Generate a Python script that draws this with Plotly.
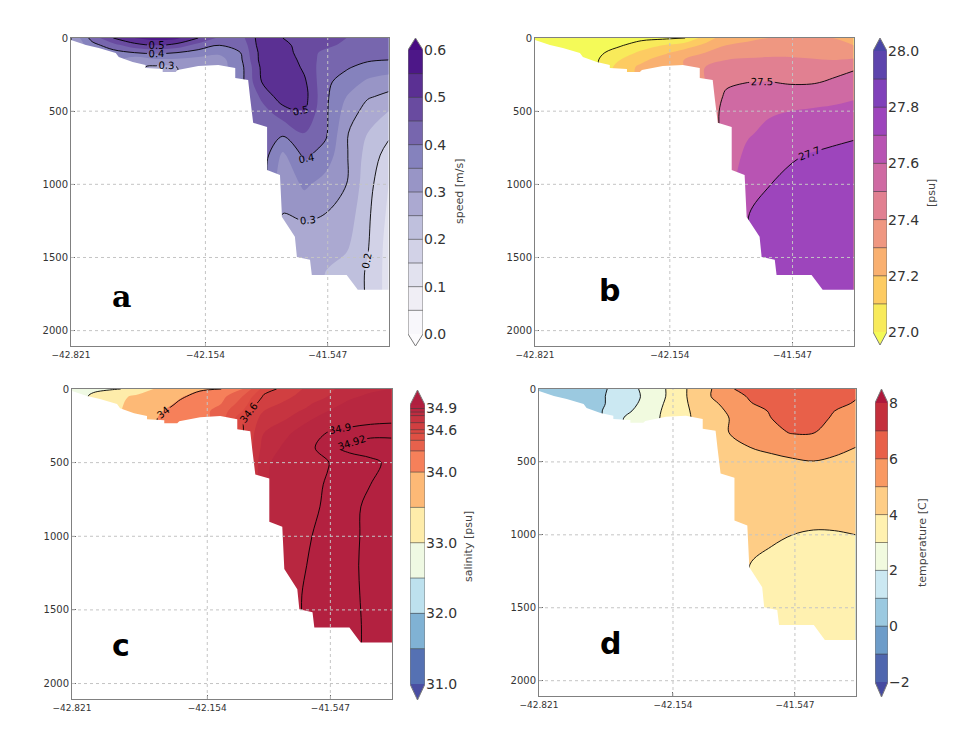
import numpy as np
import plotly.graph_objects as go

N = None

# ---------------------------------------------------------------- section grid
lon = [-42.821, -42.716, -42.611, -42.506, -42.400, -42.295, -42.190, -42.085,
       -41.980, -41.875, -41.770, -41.664, -41.559, -41.454, -41.349, -41.245]
depth = [0, 50, 100, 150, 200, 300, 400, 500, 650, 800, 1000, 1200, 1400, 1600, 1750]

# seabed profile along the section (lon, depth in m)
seabed_lon = [-42.821, -42.747, -42.683, -42.599, -42.584, -42.515, -42.451, -42.451,
              -42.366, -42.366, -42.302, -42.292, -42.189, -42.090, -42.006, -42.006,
              -41.942, -41.932, -41.917, -41.848, -41.848, -41.784, -41.774, -41.710,
              -41.700, -41.635, -41.626, -41.453, -41.398, -41.243]
seabed_depth = [14, 48, 68, 102, 130, 164, 184, 205, 212, 232, 232, 219, 191, 184, 205, 273,
                287, 410, 580, 608, 902, 936, 1223, 1359, 1496, 1516, 1619, 1619, 1721, 1721]

lon_ticks = [-42.821, -42.154, -41.547]
lon_ticktext = ["\u221242.821", "\u221242.154", "\u221241.547"]
depth_ticks = [0, 500, 1000, 1500, 2000]

# ---------------------------------------------------------------- fields (rows = depth, cols = lon)
speed = [
    [0.30, 0.42, 0.50, 0.55, 0.57, 0.56, 0.50, 0.44, 0.43, 0.53, 0.50, 0.47, 0.46, 0.45, 0.44, 0.43],
    [N, 0.38, 0.43, 0.48, 0.50, 0.48, 0.43, 0.40, 0.41, 0.53, 0.52, 0.47, 0.46, 0.44, 0.43, 0.42],
    [N, N, 0.38, 0.40, 0.41, 0.40, 0.38, 0.36, 0.40, 0.52, 0.53, 0.47, 0.44, 0.42, 0.42, 0.41],
    [N, N, N, 0.31, 0.34, 0.34, 0.33, 0.33, 0.39, 0.52, 0.54, 0.48, 0.43, 0.41, 0.405, 0.40],
    [N, N, N, N, 0.29, 0.30, N, N, 0.38, 0.51, 0.545, 0.49, 0.42, 0.405, 0.385, 0.38],
    [N, N, N, N, N, N, N, N, N, 0.50, 0.545, 0.51, 0.41, 0.38, 0.34, 0.32],
    [N, N, N, N, N, N, N, N, N, 0.46, 0.53, 0.52, 0.41, 0.35, 0.305, 0.29],
    [N, N, N, N, N, N, N, N, N, 0.43, 0.48, 0.50, 0.41, 0.33, 0.28, 0.25],
    [N, N, N, N, N, N, N, N, N, N, 0.41, 0.45, 0.41, 0.305, 0.25, 0.21],
    [N, N, N, N, N, N, N, N, N, N, 0.34, 0.41, 0.38, 0.305, 0.23, 0.18],
    [N, N, N, N, N, N, N, N, N, N, 0.31, 0.36, 0.33, 0.30, 0.22, 0.15],
    [N, N, N, N, N, N, N, N, N, N, 0.30, 0.31, 0.30, 0.28, 0.21, 0.14],
    [N, N, N, N, N, N, N, N, N, N, N, 0.27, 0.27, 0.26, 0.205, 0.13],
    [N, N, N, N, N, N, N, N, N, N, N, N, 0.25, 0.23, 0.195, 0.13],
    [N, N, N, N, N, N, N, N, N, N, N, N, N, N, N, N],
]

density = [
    [26.80, 26.85, 26.90, 26.93, 26.95, 26.97, 26.98, 26.99, 27.15, 27.25, 27.28, 27.30, 27.30, 27.30, 27.30, 27.28],
    [N, 26.90, 26.93, 26.96, 26.99, 27.05, 27.10, 27.15, 27.22, 27.30, 27.32, 27.33, 27.33, 27.33, 27.32, 27.30],
    [N, N, 26.95, 26.98, 27.05, 27.12, 27.18, 27.24, 27.30, 27.36, 27.37, 27.37, 27.37, 27.36, 27.35, 27.36],
    [N, N, N, 27.00, 27.10, 27.18, 27.24, 27.30, 27.36, 27.40, 27.41, 27.42, 27.42, 27.41, 27.40, 27.41],
    [N, N, N, N, 27.15, 27.22, N, N, 27.40, 27.44, 27.45, 27.46, 27.46, 27.45, 27.47, 27.49],
    [N, N, N, N, N, N, N, N, N, 27.48, 27.498, 27.502, 27.49, 27.49, 27.51, 27.53],
    [N, N, N, N, N, N, N, N, N, 27.52, 27.54, 27.55, 27.55, 27.56, 27.57, 27.59],
    [N, N, N, N, N, N, N, N, N, 27.55, 27.57, 27.59, 27.60, 27.61, 27.62, 27.63],
    [N, N, N, N, N, N, N, N, N, N, 27.59, 27.62, 27.64, 27.66, 27.67, 27.69],
    [N, N, N, N, N, N, N, N, N, N, 27.62, 27.67, 27.69, 27.705, 27.72, 27.72],
    [N, N, N, N, N, N, N, N, N, N, 27.67, 27.698, 27.72, 27.73, 27.74, 27.75],
    [N, N, N, N, N, N, N, N, N, N, 27.698, 27.72, 27.74, 27.75, 27.76, 27.76],
    [N, N, N, N, N, N, N, N, N, N, N, 27.74, 27.76, 27.77, 27.77, 27.77],
    [N, N, N, N, N, N, N, N, N, N, N, N, 27.77, 27.78, 27.78, 27.78],
    [N, N, N, N, N, N, N, N, N, N, N, N, N, N, N, N],
]

salinity = [
    [32.70, 32.90, 32.98, 33.05, 33.60, 33.90, 33.98, 34.00, 34.30, 34.57, 34.62, 34.72, 34.78, 34.82, 34.84, 34.85],
    [N, 33.10, 33.30, 33.60, 33.80, 33.97, 34.05, 34.20, 34.45, 34.61, 34.67, 34.75, 34.80, 34.84, 34.86, 34.86],
    [N, N, 33.35, 33.70, 33.90, 34.02, 34.10, 34.30, 34.50, 34.65, 34.72, 34.78, 34.83, 34.86, 34.87, 34.87],
    [N, N, N, 33.80, 33.97, 34.05, 34.15, 34.38, 34.55, 34.70, 34.76, 34.81, 34.85, 34.87, 34.88, 34.88],
    [N, N, N, N, 34.00, 34.08, N, N, 34.59, 34.74, 34.79, 34.84, 34.87, 34.885, 34.89, 34.893],
    [N, N, N, N, N, N, N, N, N, 34.80, 34.84, 34.875, 34.903, 34.91, 34.915, 34.915],
    [N, N, N, N, N, N, N, N, N, 34.82, 34.86, 34.89, 34.915, 34.925, 34.93, 34.93],
    [N, N, N, N, N, N, N, N, N, 34.84, 34.87, 34.89, 34.899, 34.91, 34.915, 34.925],
    [N, N, N, N, N, N, N, N, N, N, 34.88, 34.893, 34.902, 34.912, 34.92, 34.93],
    [N, N, N, N, N, N, N, N, N, N, 34.885, 34.895, 34.903, 34.914, 34.925, 34.93],
    [N, N, N, N, N, N, N, N, N, N, 34.89, 34.898, 34.906, 34.915, 34.925, 34.93],
    [N, N, N, N, N, N, N, N, N, N, 34.893, 34.90, 34.907, 34.916, 34.925, 34.93],
    [N, N, N, N, N, N, N, N, N, N, N, 34.902, 34.908, 34.916, 34.924, 34.93],
    [N, N, N, N, N, N, N, N, N, N, N, N, 34.908, 34.916, 34.923, 34.93],
    [N, N, N, N, N, N, N, N, N, N, N, N, N, N, N, N],
]

temperature = [
    [0.30, 0.50, 0.70, 0.85, 1.50, 2.20, 3.00, 4.00, 4.80, 5.90, 6.30, 6.60, 6.70, 6.60, 6.40, 6.20],
    [N, 0.50, 0.70, 0.90, 1.60, 2.10, 3.00, 4.00, 4.90, 5.60, 6.10, 6.50, 6.70, 6.60, 6.30, 6.05],
    [N, N, 0.70, 0.90, 1.60, 2.20, 3.10, 3.95, 4.80, 5.20, 5.95, 6.30, 6.60, 6.50, 6.15, 5.95],
    [N, N, N, 1.00, 1.80, 2.30, 3.20, 3.90, 4.60, 5.10, 5.60, 6.10, 6.50, 6.40, 6.00, 5.80],
    [N, N, N, N, 2.00, 2.50, N, N, 4.40, 5.00, 5.40, 6.00, 6.45, 6.40, 5.85, 5.60],
    [N, N, N, N, N, N, N, N, N, 5.00, 5.30, 5.80, 6.05, 6.02, 5.60, 5.40],
    [N, N, N, N, N, N, N, N, N, 4.80, 5.00, 5.15, 5.30, 5.30, 5.15, 5.00],
    [N, N, N, N, N, N, N, N, N, 4.50, 4.70, 4.80, 4.90, 4.98, 4.90, 4.75],
    [N, N, N, N, N, N, N, N, N, N, 4.50, 4.55, 4.60, 4.60, 4.55, 4.50],
    [N, N, N, N, N, N, N, N, N, N, 4.35, 4.40, 4.45, 4.40, 4.30, 4.25],
    [N, N, N, N, N, N, N, N, N, N, 4.20, 4.10, 4.00, 3.92, 3.95, 4.00],
    [N, N, N, N, N, N, N, N, N, N, 4.00, 3.85, 3.75, 3.70, 3.70, 3.75],
    [N, N, N, N, N, N, N, N, N, N, N, 3.70, 3.60, 3.55, 3.55, 3.60],
    [N, N, N, N, N, N, N, N, N, N, N, N, 3.50, 3.45, 3.45, 3.50],
    [N, N, N, N, N, N, N, N, N, N, N, N, N, N, N, N],
]

# ---------------------------------------------------------------- contour levels and colorbar ticks
speed_levels = [0.0, 0.05, 0.10, 0.15, 0.20, 0.25, 0.30, 0.35, 0.40, 0.45, 0.50, 0.55, 0.60]
speed_lines = [0.2, 0.3, 0.4, 0.5]
speed_cticks = [0.0, 0.1, 0.2, 0.3, 0.4, 0.5, 0.6]
speed_ctext = ["0.0", "0.1", "0.2", "0.3", "0.4", "0.5", "0.6"]

density_levels = [27.0, 27.1, 27.2, 27.3, 27.4, 27.5, 27.6, 27.7, 27.8, 27.9, 28.0]
density_lines = [27.0, 27.5, 27.7]
density_cticks = [27.0, 27.2, 27.4, 27.6, 27.8, 28.0]
density_ctext = ["27.0", "27.2", "27.4", "27.6", "27.8", "28.0"]

salinity_levels = [31.0, 31.5, 32.0, 32.5, 33.0, 33.5, 34.0, 34.3, 34.45, 34.55, 34.6,
                   34.7, 34.8, 34.85, 34.9, 34.95]
salinity_lines = [33.0, 34.0, 34.6, 34.9, 34.92]
salinity_cticks = [31.0, 32.0, 33.0, 34.0, 34.6, 34.9]
salinity_ctext = ["31.0", "32.0", "33.0", "34.0", "34.6", "34.9"]

temperature_levels = [-2, -1, 0, 1, 2, 3, 4, 5, 6, 7, 8]
temperature_lines = [1, 2, 3, 4, 5, 6]
temperature_cticks = [-2, 0, 2, 4, 6, 8]
temperature_ctext = ["\u22122", "0", "2", "4", "6", "8"]

# ---------------------------------------------------------------- colour maps
PURPLES = ["#fcfbfd", "#efedf5", "#dadaeb", "#bcbddc", "#9e9ac8", "#807dba", "#6a51a3", "#54278f", "#3f007d"]
PLASMA_R = ["#f0f921", "#fcce25", "#fca636", "#f2844b", "#e16462", "#cc4778", "#b12a90", "#8f0da4",
            "#6a00a8", "#41049d", "#0d0887"]
RDYLBU_R = ["#313695", "#4575b4", "#74add1", "#abd9e9", "#e0f3f8", "#ffffbf", "#fee090", "#fdae61",
            "#f46d43", "#d73027", "#a50026"]

W, H = 968, 729
FONT = "DejaVu Sans"


def _rgb(h):
    return np.array([int(h[i:i + 2], 16) for i in (1, 3, 5)], float)


def sample(anchors, t):
    t = min(max(t, 0.0), 1.0)
    pos = t * (len(anchors) - 1)
    i = min(int(pos), len(anchors) - 2)
    f = pos - i
    return (1 - f) * _rgb(anchors[i]) + f * _rgb(anchors[i + 1])


def palette(levels, anchors, alpha):
    """under colour, one colour per band, over colour"""
    lo, hi = levels[0], levels[-1]
    ts = [0.0] + [((a + b) / 2 - lo) / (hi - lo) for a, b in zip(levels[:-1], levels[1:])] + [1.0]
    out = []
    for t in ts:
        c = alpha * sample(anchors, t) + (1 - alpha) * 255.0
        out.append("rgb(%d,%d,%d)" % tuple(int(round(v)) for v in c))
    return out


def step_scale(colors):
    m = len(colors) - 1
    scale = []
    for j, c in enumerate(colors):
        scale.append([max(0.0, (j - 0.5) / m), c])
        scale.append([min(1.0, (j + 0.5) / m), c])
    return scale


def filled(rows):
    # carry the deepest value of each profile down under the seabed (hidden by the mask)
    arr = np.array([[np.nan if v is None else v for v in r] for r in rows], float)
    for j in range(arr.shape[1]):
        for i in range(1, arr.shape[0]):
            if np.isnan(arr[i, j]):
                arr[i, j] = arr[i - 1, j]
    return arr


def to_index(z, levels):
    n = len(levels) - 1
    span = levels[-1] - levels[0]
    xp = [levels[0] - span] + list(levels) + [levels[-1] + span]
    fp = [-n] + list(range(n + 1)) + [2 * n]
    return np.interp(z, xp, fp)


def px(x):
    return x / W


def py(y):
    return 1 - y / H


X_RANGE = [-42.821, -41.243]
Y_BOTTOM = 2105
GRID = dict(color="#c4c4c4", width=1, dash="dot")

panels = [
    dict(z=speed, levels=speed_levels, anchors=PURPLES, alpha=0.96, lines=speed_lines, labels=True,
         fmt=".1f", box=(71, 389, 38, 346), cbar=(408, 423, 38, 50, 334, 346),
         cticks=speed_cticks, ctext=speed_ctext, ctitle="speed [m/s]", ctitle_xy=(459, 192),
         letter="a", letter_xy=(121, 296), letter_font="DejaVu Serif"),
    dict(z=density, levels=density_levels, anchors=PLASMA_R, alpha=0.75, lines=density_lines, labels=True,
         fmt=".1f", box=(535, 854, 38, 346), cbar=(873, 887, 38, 51, 332, 345),
         cticks=density_cticks, ctext=density_ctext, ctitle="[psu]", ctitle_xy=(932, 193),
         letter="b", letter_xy=(609, 290), letter_font=FONT),
    dict(z=salinity, levels=salinity_levels, anchors=RDYLBU_R, alpha=0.88, lines=salinity_lines, labels=True,
         fmt=".4~g", box=(72, 392, 389, 699), cbar=(410, 425, 390, 405, 684, 700),
         cticks=salinity_cticks, ctext=salinity_ctext, ctitle="salinity [psu]", ctitle_xy=(468, 547),
         letter="c", letter_xy=(121, 645), letter_font=FONT),
    dict(z=temperature, levels=temperature_levels, anchors=RDYLBU_R, alpha=0.9, lines=temperature_lines,
         labels=False, fmt=".0f", box=(539, 856, 389, 696), cbar=(875, 888, 389, 403, 682, 697),
         cticks=temperature_cticks, ctext=temperature_ctext, ctitle="temperature [C]", ctitle_xy=(922, 543),
         letter="d", letter_xy=(610, 643), letter_font=FONT),
]

fig = go.Figure()
layout = dict(width=W, height=H, autosize=False, margin=dict(l=0, r=0, t=0, b=0, pad=0, autoexpand=False),
              paper_bgcolor="white", plot_bgcolor="white", showlegend=False,
              font=dict(family=FONT, color="#333"))
shapes, annotations = [], []

# polygon of the sea floor (white) built from the seabed profile
pad_x = 0.05
mask_x = [X_RANGE[0] - pad_x] + seabed_lon + [X_RANGE[1] + pad_x, X_RANGE[1] + pad_x, X_RANGE[0] - pad_x]
mask_y = [seabed_depth[0]] + seabed_depth + [seabed_depth[-1], Y_BOTTOM + 50, Y_BOTTOM + 50]

for k, p in enumerate(panels):
    s = "" if k == 0 else str(k + 1)
    xa, ya = "x" + s, "y" + s
    levels = p["levels"]
    n = len(levels) - 1
    cols = palette(levels, p["anchors"], p["alpha"])
    z = filled(p["z"])

    # filled bands
    fig.add_trace(go.Contour(
        x=lon, y=depth, z=to_index(z, levels), xaxis=xa, yaxis=ya,
        autocontour=False, contours=dict(start=0, end=n, size=1, coloring="fill", showlines=False),
        colorscale=step_scale(cols), showscale=False, line=dict(width=0), hoverinfo="skip"))

    # black isolines
    for v in p["lines"]:
        fig.add_trace(go.Contour(
            x=lon, y=depth, z=z, xaxis=xa, yaxis=ya, autocontour=False,
            contours=dict(start=v, end=v, size=1, coloring="none", showlabels=p["labels"],
                          labelfont=dict(family=FONT, size=10, color="black"), labelformat=p["fmt"]),
            line=dict(color="black", width=0.9), showscale=False, hoverinfo="skip"))

    # sea floor
    fig.add_trace(go.Scatter(x=mask_x, y=mask_y, xaxis=xa, yaxis=ya, mode="lines", fill="toself",
                             fillcolor="white", line=dict(width=0, color="white"), hoverinfo="skip"))

    x0, x1, y0, y1 = p["box"]
    layout["xaxis" + s] = dict(domain=[px(x0), px(x1)], range=X_RANGE, anchor=ya, tickmode="array",
                               tickvals=lon_ticks, ticktext=lon_ticktext, showgrid=False, zeroline=False,
                               showline=True, mirror=True, linecolor="#808080", linewidth=1,
                               ticks="inside", ticklen=4, tickcolor="#666", automargin=False,
                               tickfont=dict(family=FONT, size=9, color="#333"))
    layout["yaxis" + s] = dict(domain=[py(y1), py(y0)], range=[Y_BOTTOM, 0], anchor=xa, tickmode="array",
                               tickvals=depth_ticks, showgrid=False, zeroline=False,
                               showline=True, mirror=True, linecolor="#808080", linewidth=1,
                               ticks="inside", ticklen=4, tickcolor="#666", automargin=False,
                               tickfont=dict(family=FONT, size=10, color="#333"))

    # dotted grid drawn over the section
    for v in lon_ticks[1:]:
        shapes.append(dict(type="line", xref=xa, yref=ya + " domain", x0=v, x1=v, y0=0, y1=1,
                           line=GRID, layer="above"))
    for v in depth_ticks[1:]:
        shapes.append(dict(type="line", xref=xa + " domain", yref=ya, x0=0, x1=1, y0=v, y1=v,
                           line=GRID, layer="above"))

    annotations.append(dict(text="<b>%s</b>" % p["letter"], x=px(p["letter_xy"][0]), y=py(p["letter_xy"][1]),
                            xref="paper", yref="paper", showarrow=False, xanchor="center", yanchor="middle",
                            font=dict(family=p["letter_font"], size=30, color="black")))

    # ---------------- colour bar with end triangles
    cs = str(k + 5)
    cxa, cya = "x" + cs, "y" + cs
    bx0, bx1, tip_t, bar_t, bar_b, tip_b = p["cbar"]
    lo, hi = levels[0], levels[-1]
    upp = (hi - lo) / (bar_b - bar_t)
    ext_lo = (tip_b - bar_b) * upp
    ext_hi = (bar_t - tip_t) * upp

    fig.add_trace(go.Heatmap(x=[0, 1], y=levels, z=[[i] for i in range(n)], xaxis=cxa, yaxis=cya,
                             colorscale=step_scale(cols[1:-1]), zmin=0, zmax=n - 1, showscale=False,
                             hoverinfo="skip"))
    fig.add_trace(go.Scatter(x=[0, 1, 0.5, 0], y=[hi, hi, hi + ext_hi, hi], xaxis=cxa, yaxis=cya,
                             mode="lines", fill="toself", fillcolor=cols[-1], line=dict(width=0),
                             hoverinfo="skip"))
    fig.add_trace(go.Scatter(x=[0, 1, 0.5, 0], y=[lo, lo, lo - ext_lo, lo], xaxis=cxa, yaxis=cya,
                             mode="lines", fill="toself", fillcolor=cols[0], line=dict(width=0),
                             hoverinfo="skip"))
    sep_x, sep_y = [], []
    for v in levels[1:-1]:
        sep_x += [0, 1, None]
        sep_y += [v, v, None]
    fig.add_trace(go.Scatter(x=sep_x, y=sep_y, xaxis=cxa, yaxis=cya, mode="lines",
                             line=dict(color="rgba(60,60,60,0.75)", width=0.8), hoverinfo="skip"))
    fig.add_trace(go.Scatter(x=[0, 0, 0.5, 1, 1, 0.5, 0],
                             y=[lo, hi, hi + ext_hi, hi, lo, lo - ext_lo, lo],
                             xaxis=cxa, yaxis=cya, mode="lines",
                             line=dict(color="#7a7a7a", width=1), hoverinfo="skip"))

    layout["xaxis" + cs] = dict(domain=[px(bx0), px(bx1)], range=[0, 1], anchor=cya, visible=False,
                                fixedrange=True, automargin=False)
    layout["yaxis" + cs] = dict(domain=[py(tip_b), py(tip_t)], range=[lo - ext_lo, hi + ext_hi], anchor=cxa,
                                side="right", tickmode="array", tickvals=p["cticks"], ticktext=p["ctext"],
                                showgrid=False, zeroline=False, showline=False, ticks="", automargin=False,
                                tickfont=dict(family=FONT, size=14, color="#333"), fixedrange=True)

    annotations.append(dict(text=p["ctitle"], x=px(p["ctitle_xy"][0]), y=py(p["ctitle_xy"][1]),
                            xref="paper", yref="paper", showarrow=False, textangle=-90,
                            xanchor="center", yanchor="middle",
                            font=dict(family=FONT, size=11, color="#444")))

layout["shapes"] = shapes
layout["annotations"] = annotations
fig.update_layout(**layout)
fig.write_html("out.html")
